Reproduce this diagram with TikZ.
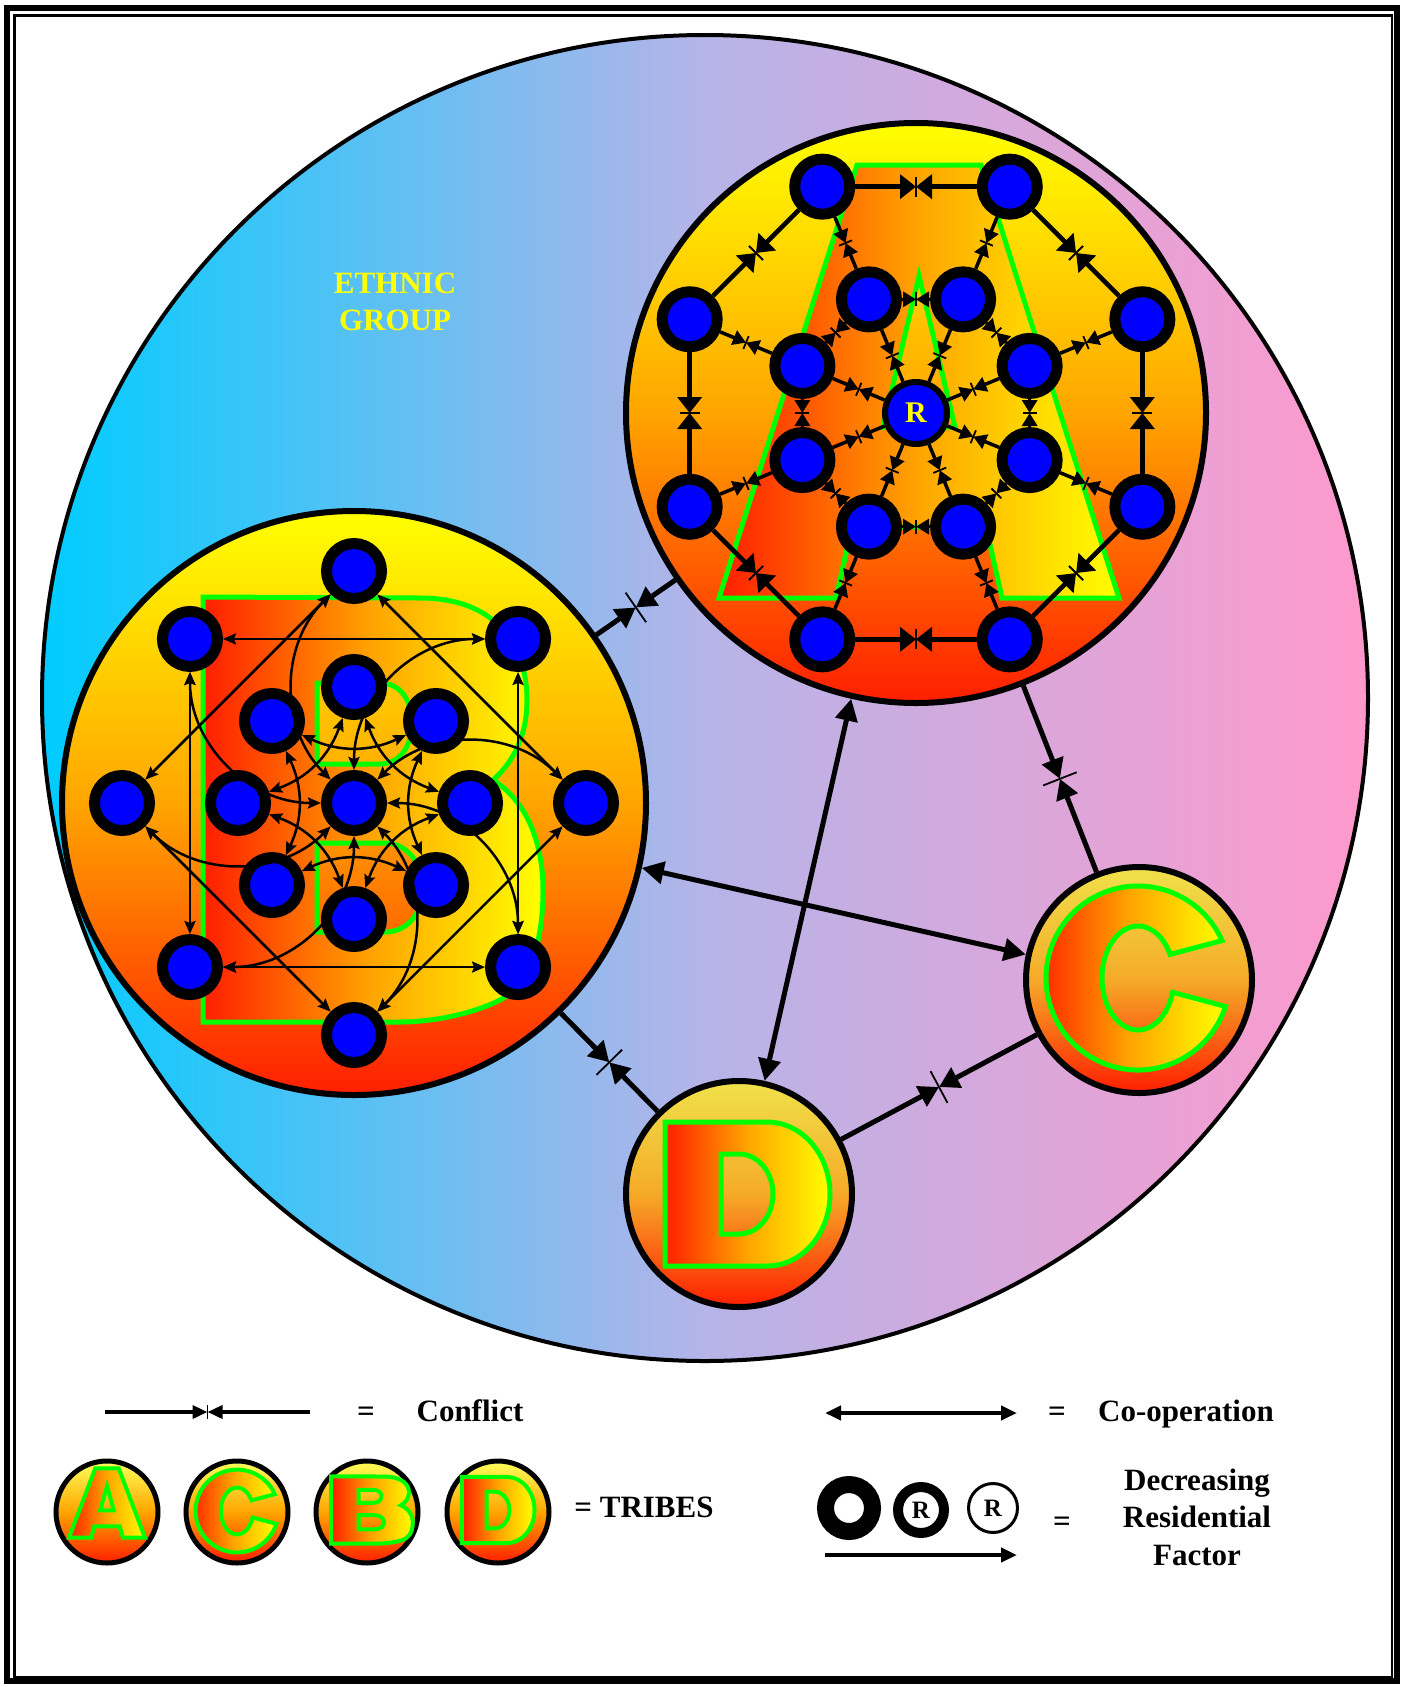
\documentclass[tikz,border=0pt]{standalone}
\usepackage{fontspec}
\setmainfont{Liberation Serif}
\usetikzlibrary{arrows.meta, calc}

\definecolor{ethcyan}{RGB}{0,204,255}
\definecolor{ethlilac}{RGB}{182,180,232}
\definecolor{ethpink}{RGB}{255,153,204}
\definecolor{tribeyellow}{RGB}{255,255,0}
\definecolor{tribeorange}{RGB}{255,165,0}
\definecolor{tribered}{RGB}{255,30,0}
\definecolor{smallyellow}{RGB}{240,225,75}
\definecolor{smallorange}{RGB}{245,170,40}
\definecolor{keyyellow}{RGB}{255,255,90}
\definecolor{letterline}{RGB}{0,255,0}
\definecolor{memberblue}{RGB}{0,0,255}

% letter outlines, each about its own centre (y grows downwards)
\newcommand{\letterA}{(-200,217) -- (-62,-216) -- (62,-216) -- (200,217) -- (83,217) -- (67,146) -- (-67,146) -- (-83,217) -- cycle
  (0,-105) -- (36,46) -- (-36,46) -- cycle}
\newcommand{\letterB}{(-170,-213) -- (47,-212) .. controls (127,-212) and (154,-160) .. (154,-110) .. controls (154,-70) and (137,-45) .. (120,-30)
  .. controls (152,-10) and (170,30) .. (170,80) .. controls (170,150) and (147,180) .. (127,190) .. controls (97,205) and (57,212) .. (27,212) -- (-170,212) -- cycle
  (-56,-127) -- (7,-127) .. controls (27,-127) and (39,-110) .. (39,-87) .. controls (39,-62) and (25,-46) .. (7,-46) -- (-56,-46) -- cycle
  (-56,33) -- (12,33) .. controls (35,33) and (50,55) .. (50,78) .. controls (50,102) and (35,122) .. (12,122) -- (-56,122) -- cycle}
\newcommand{\letterC}{(-24:92) arc[start angle=-24, end angle=-342, radius=92] -- (-344:36 and 52) arc[start angle=-344, end angle=-27, x radius=36, y radius=52] -- cycle}
\newcommand{\letterD}{(-82,-72) -- (20,-72) arc[start angle=-90, end angle=90, x radius=63, y radius=72] -- (-82,72) -- cycle
  (-26,-40) -- (-8,-40) arc[start angle=-90, end angle=90, x radius=34, y radius=40] -- (-26,40) -- cycle}

% two arrows meeting head to head, with a cross mark
\newcommand{\clash}[4]{%
  \path (#2) -- coordinate[midway] (mid) (#3);
  \draw[#1] (#2) -- (mid);
  \draw[#1] (#3) -- (mid);
  \draw[clashmark] ($(mid)!#4!90:(#2)$) -- ($(mid)!#4!-90:(#2)$);
}

\begin{document}
\begin{tikzpicture}[x=1pt, y=-1pt,
    ethnic/.style={circle, draw=black, line width=4pt, minimum size=1326pt, inner sep=0pt, left color=ethcyan, right color=ethpink, middle color=ethlilac},
    bigtribe/.style={circle, draw=black, line width=6pt, inner sep=0pt, top color=tribeyellow, bottom color=tribered, middle color=tribeorange},
    smalltribe/.style={circle, draw=black, line width=6pt, inner sep=0pt, minimum size=226pt, top color=smallyellow, bottom color=tribered, middle color=smallorange},
    keytribe/.style={circle, draw=black, line width=5pt, inner sep=0pt, minimum size=102pt, top color=keyyellow, bottom color=tribered, middle color=tribeorange},
    member/.style={circle, fill=memberblue, draw=black, line width=11pt, minimum size=55pt, inner sep=0pt},
    resident/.style={circle, fill=memberblue, draw=black, line width=6pt, minimum size=62pt, inner sep=0pt, text=tribeyellow, font=\fontsize{30}{30}\selectfont\bfseries},
    letterfill/.style={even odd rule, draw=letterline, line width=5pt, left color=tribered, right color=tribeyellow, middle color=tribeorange},
    keyletter/.style={letterfill, line width=4pt},
    keytext/.style={font=\fontsize{31}{37}\selectfont\bfseries, inner sep=0pt, anchor=base},
    keyring/.style={circle, draw=black, inner sep=0pt, font=\fontsize{25}{25}\selectfont\bfseries},
    clashmark/.style={line width=1.8pt},
    bigclash/.style={->, >={Triangle[length=16pt, width=24pt]}, line width=4.5pt},
    smallclash/.style={->, >={Triangle[length=13pt, width=15pt]}, line width=3.5pt},
    tribeclash/.style={->, >={Triangle[length=20pt, width=22pt]}, line width=5pt},
    keyclash/.style={->, >={Triangle[length=15pt, width=13pt]}, line width=3.5pt},
    coop/.style={<->, >={Stealth[length=13pt, width=11pt, inset=2pt]}, line width=2.5pt},
    tribecoop/.style={<->, >={Triangle[length=22pt, width=22pt]}, line width=5pt},
    keycoop/.style={<->, >={Triangle[length=16pt, width=14pt]}, line width=4pt}
]
    \useasboundingbox (0,0) rectangle (1403,1687);

    \node[ethnic] (ethnic) at (705,698) {};
    \node[font=\fontsize{31}{37}\selectfont\bfseries, text=tribeyellow, align=center] (ethniclabel) at (395,302) {ETHNIC\\GROUP};

    % Tribe A: two rings of eight round the resident
    \node[bigtribe, minimum size=580pt] (A) at (916,413) {};
    \path[letterfill, shift={(919,381)}] \letterA;
    \foreach \k in {0,...,7} {
        \node[member] (Ao\k) at ($(A)+({22.5+45*\k}:245)$) {};
        \node[member] (Ai\k) at ($(A)+({22.5+45*\k}:123)$) {};
    }
    \node[resident] (R) at (A) {R};
    \foreach \k in {0,...,7} {
        \pgfmathtruncatemacro{\n}{mod(\k+1,8)}
        \clash{bigclash}{Ao\k}{Ao\n}{10pt}
        \clash{smallclash}{Ao\k}{Ai\k}{7pt}
        \clash{smallclash}{Ai\k}{Ai\n}{7pt}
        \clash{smallclash}{Ai\k}{R}{7pt}
    }

    % Tribe B: everyone co-operates
    \node[bigtribe, minimum size=584pt] (B) at (354,803) {};
    \path[letterfill, shift={(373,810)}] \letterB;
    \node[member] (Bc) at (B) {};
    \foreach \k in {0,...,7} {
        \node[member] (Bo\k) at ($(B)+({45*\k}:232)$) {};
        \node[member] (Bi\k) at ($(B)+({45*\k}:116)$) {};
    }
    \foreach \k in {0,...,7} {
        \pgfmathtruncatemacro{\n}{mod(\k+2,8)}
        \draw[coop] (Bo\k) -- (Bo\n);
        \draw[coop, bend right=45] (Bo\k) to (Bc);
        \draw[coop, bend right=25] (Bi\k) to (Bi\n);
    }

    % Tribes C and D
    \node[smalltribe] (C) at (1139,980) {};
    \path[letterfill, shift={(1138,978)}] \letterC;
    \node[smalltribe] (D) at (739,1194) {};
    \path[letterfill, shift={(747,1194)}] \letterD;

    % Between the tribes
    \clash{tribeclash}{A}{B}{18pt}
    \clash{tribeclash}{A}{C}{18pt}
    \clash{tribeclash}{B}{D}{18pt}
    \clash{tribeclash}{C}{D}{18pt}
    \draw[tribecoop] (A) -- (D);
    \draw[tribecoop] (B) -- (C);

    % Key
    \coordinate (cf1) at (105,1412);
    \coordinate (cf2) at (310,1412);
    \clash{keyclash}{cf1}{cf2}{7pt}
    \node[keytext] (confeq) at (366,1421) {=};
    \node[keytext] (conflict) at (470,1421) {Conflict};

    \coordinate (co1) at (825,1413);
    \coordinate (co2) at (1017,1413);
    \draw[keycoop] (co1) -- (co2);
    \node[keytext] (coopeq) at (1057,1421) {=};
    \node[keytext] (cooperation) at (1186,1421) {Co-operation};

    \node[keytribe] (keyA) at (107,1512) {};
    \path[keyletter, shift={(107,1503)}, xscale=0.19, yscale=0.16] \letterA;
    \node[keytribe] (keyC) at (237,1512) {};
    \path[keyletter, shift={(237,1511)}, scale=0.45] \letterC;
    \node[keytribe] (keyB) at (367,1512) {};
    \path[keyletter, shift={(372,1510)}, xscale=0.24, yscale=0.158] \letterB;
    \node[keytribe] (keyD) at (498,1512) {};
    \path[keyletter, shift={(498,1510)}, xscale=0.44, yscale=0.46] \letterD;
    \node[keytext] (tribes) at (644,1517) {= TRIBES};

    \node[keyring, fill=white, line width=17pt, minimum size=47pt] (res1) at (849,1508) {};
    \node[keyring, line width=10pt, minimum size=46pt] (res2) at (921,1510) {R};
    \node[keyring, line width=3pt, minimum size=49pt] (res3) at (993,1508) {R};
    \coordinate (rf1) at (825,1555);
    \coordinate (rf2) at (1017,1555);
    \draw[keycoop, <-] (rf2) -- (rf1);
    \node[keytext] (reseq) at (1062,1531) {=};
    \node[keytext] (decreasing) at (1197,1490) {Decreasing};
    \node[keytext] (residential) at (1197,1527) {Residential};
    \node[keytext] (factor) at (1197,1565) {Factor};

    % frame
    \draw[line width=6pt] (7,8) rectangle (1397,1681);
    \draw[line width=2.5pt] (14.5,15.5) rectangle (1392,1677);
\end{tikzpicture}
\end{document}
